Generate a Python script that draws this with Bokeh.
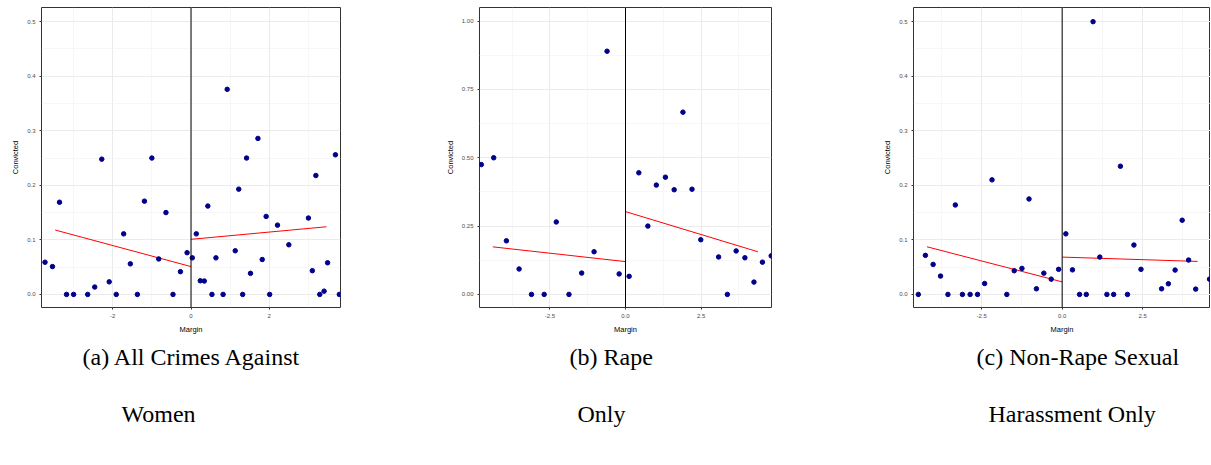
from bokeh.plotting import figure
from bokeh.layouts import row
from bokeh.models import FixedTicker, Span, Title
from bokeh.embed import file_html
from bokeh.resources import INLINE

# ---------------- data ----------------
a_x = [-3.73, -3.54, -3.36, -3.18, -3.0, -2.64, -2.46, -2.28, -2.09, -1.91, -1.72, -1.55,
       -1.37, -1.19, -1.0, -0.825, -0.64, -0.46, -0.27, -0.10, 0.033, 0.135, 0.237, 0.34,
       0.43, 0.535, 0.637, 0.82, 0.925, 1.13, 1.22, 1.32, 1.42, 1.52, 1.71, 1.82, 1.92,
       2.01, 2.21, 2.50, 3.0, 3.1, 3.19, 3.29, 3.40, 3.49, 3.69, 3.79]
a_y = [0.059, 0.051, 0.169, 0.0, 0.0, 0.0, 0.0135, 0.248, 0.023, 0.0, 0.111, 0.056,
       0.0, 0.171, 0.250, 0.065, 0.150, 0.0, 0.0417, 0.0765, 0.067, 0.111, 0.025, 0.0245,
       0.162, 0.0, 0.067, 0.0, 0.376, 0.080, 0.193, 0.0, 0.250, 0.0386, 0.286, 0.064, 0.143,
       0.0, 0.127, 0.091, 0.140, 0.0435, 0.218, 0.0, 0.006, 0.058, 0.256, 0.0]
a_fit_left_x = [-3.47, 0.0]
a_fit_left_y = [0.118, 0.051]
a_fit_right_x = [0.0, 3.46]
a_fit_right_y = [0.101, 0.124]

b_x = [-4.77, -4.36, -3.94, -3.52, -3.11, -2.69, -2.29, -1.87, -1.45, -1.04, -0.61, -0.21,
       0.12, 0.44, 0.74, 1.02, 1.32, 1.61, 1.90, 2.20, 2.49, 3.08, 3.37, 3.66, 3.95, 4.25,
       4.53, 4.82]
b_y = [0.475, 0.50, 0.196, 0.093, 0.0, 0.0, 0.265, 0.0, 0.078, 0.156, 0.89, 0.075,
       0.066, 0.445, 0.25, 0.40, 0.429, 0.383, 0.667, 0.385, 0.20, 0.137, 0.0, 0.159, 0.134,
       0.045, 0.118, 0.141]
b_fit_left_x = [-4.39, 0.0]
b_fit_left_y = [0.174, 0.120]
b_fit_right_x = [0.0, 4.38]
b_fit_right_y = [0.303, 0.156]

c_x = [-4.47, -4.25, -4.01, -3.78, -3.55, -3.32, -3.10, -2.86, -2.63, -2.41, -2.18, -1.72,
       -1.49, -1.25, -1.03, -0.80, -0.57, -0.34, -0.11, 0.114, 0.32, 0.54, 0.75, 0.96, 1.17,
       1.39, 1.60, 1.81, 2.03, 2.23, 2.45, 3.09, 3.30, 3.51, 3.73, 3.93, 4.15, 4.58]
c_y = [0.0, 0.0716, 0.055, 0.0336, 0.0, 0.164, 0.0, 0.0, 0.0, 0.020, 0.210, 0.0,
       0.0434, 0.0477, 0.175, 0.0103, 0.039, 0.028, 0.046, 0.111, 0.045, 0.0, 0.0, 0.50, 0.0684,
       0.0, 0.0, 0.235, 0.0, 0.0905, 0.046, 0.0103, 0.0195, 0.0446, 0.136, 0.063, 0.0097, 0.028]
c_fit_left_x = [-4.20, 0.0]
c_fit_left_y = [0.0873, 0.023]
c_fit_right_x = [0.0, 4.21]
c_fit_right_y = [0.0684, 0.0605]

a_xticks = [-2, 0, 2]
a_xlabels = ["-2", "0", "2"]
a_xminor = [-3, -1, 1, 3]
a_yticks = [0.0, 0.1, 0.2, 0.3, 0.4, 0.5]
a_ylabels = ["0.0", "0.1", "0.2", "0.3", "0.4", "0.5"]
a_yminor = [0.05, 0.15, 0.25, 0.35, 0.45]

b_xticks = [-2.5, 0.0, 2.5]
b_xlabels = ["-2.5", "0.0", "2.5"]
b_xminor = [-3.75, -1.25, 1.25, 3.75]
b_yticks = [0.0, 0.25, 0.5, 0.75, 1.0]
b_ylabels = ["0.00", "0.25", "0.50", "0.75", "1.00"]
b_yminor = [0.125, 0.375, 0.625, 0.875]

c_xticks = [-2.5, 0.0, 2.5]
c_xlabels = ["-2.5", "0.0", "2.5"]
c_xminor = [-3.75, -1.25, 1.25, 3.75]
c_yticks = [0.0, 0.1, 0.2, 0.3, 0.4, 0.5]
c_ylabels = ["0.0", "0.1", "0.2", "0.3", "0.4", "0.5"]
c_yminor = [0.05, 0.15, 0.25, 0.35, 0.45]

captions = [("(a) All Crimes Against", "Women"),
            ("(b) Rape", "Only"),
            ("(c) Non-Rape Sexual", "Harassment Only")]

H = 460
FRAME_H = 303


def panel(xs, ys, flx, fly, frx, fry, xr, yr, xt, xl, xm, yt, yl, ym,
          width, lb, rb, tb, cap, offs):
    p = figure(width=width, height=H, x_range=xr, y_range=yr,
               output_backend="svg", toolbar_location=None,
               min_border_left=lb, min_border_right=rb, min_border_top=tb,
               min_border_bottom=H - FRAME_H - tb)
    p.background_fill_color = "white"
    p.border_fill_color = "white"
    p.outline_line_color = "#333333"
    p.outline_line_width = 1
    for ax, ticks, labels, minor in ((p.xaxis[0], xt, xl, xm), (p.yaxis[0], yt, yl, ym)):
        ax.ticker = FixedTicker(ticks=ticks, minor_ticks=minor)
        ax.major_label_overrides = {t: s for t, s in zip(ticks, labels)}
        ax.axis_line_color = None
        ax.major_tick_line_color = "#333333"
        ax.major_tick_out = 2
        ax.major_tick_in = 0
        ax.minor_tick_line_color = None
        ax.major_label_text_font = "Liberation Sans"
        ax.major_label_text_font_size = "6px"
        ax.major_label_text_color = "#4D4D4D"
        ax.major_label_standoff = 2
        ax.axis_label_text_font = "Liberation Sans"
        ax.axis_label_text_font_size = "7.5px"
        ax.axis_label_text_font_style = "normal"
        ax.axis_label_text_color = "black"
        ax.axis_label_standoff = 4
    p.xaxis.axis_label = "Margin"
    p.yaxis.axis_label = "Convicted"
    for g in (p.xgrid[0], p.ygrid[0]):
        g.grid_line_color = "#EBEBEB"
        g.grid_line_width = 1
        g.minor_grid_line_color = "#F2F2F2"
        g.minor_grid_line_width = 0.6
    p.add_layout(Span(location=0, dimension="height", line_color="black", line_width=1))
    p.line(flx, fly, line_color="red", line_width=1)
    p.line(frx, fry, line_color="red", line_width=1)
    p.scatter(xs, ys, size=4.5, fill_color="#00008B", line_color="#00008B")
    t1 = Title(text=cap[0], align="left", offset=offs[0], text_font="Liberation Serif",
               text_font_size="24px", text_font_style="normal", text_color="black",
               standoff=10)
    t2 = Title(text=cap[1], align="left", offset=offs[1], text_font="Liberation Serif",
               text_font_size="24px", text_font_style="normal", text_color="black",
               standoff=48)
    p.add_layout(t1, "below")
    p.add_layout(t2, "below")
    return p


pa = panel(a_x, a_y, a_fit_left_x, a_fit_left_y, a_fit_right_x, a_fit_right_y,
           (-3.82, 3.82), (-0.024, 0.526), a_xticks, a_xlabels, a_xminor,
           a_yticks, a_ylabels, a_yminor, 440, 41, 100, 7, captions[0], (41, 80))
pb = panel(b_x, b_y, b_fit_left_x, b_fit_left_y, b_fit_right_x, b_fit_right_y,
           (-4.83, 4.83), (-0.048, 1.05), b_xticks, b_xlabels, b_xminor,
           b_yticks, b_ylabels, b_yminor, 440, 39, 109, 4, captions[1], (90, 98))
pc = panel(c_x, c_y, c_fit_left_x, c_fit_left_y, c_fit_right_x, c_fit_right_y,
           (-4.62, 4.61), (-0.024, 0.526), c_xticks, c_xlabels, c_xminor,
           c_yticks, c_ylabels, c_yminor, 330, 32, 0, 4, captions[2], (63, 75))

layout = row(pa, pb, pc, spacing=0)
open("out.html", "w").write(file_html(layout, INLINE))
